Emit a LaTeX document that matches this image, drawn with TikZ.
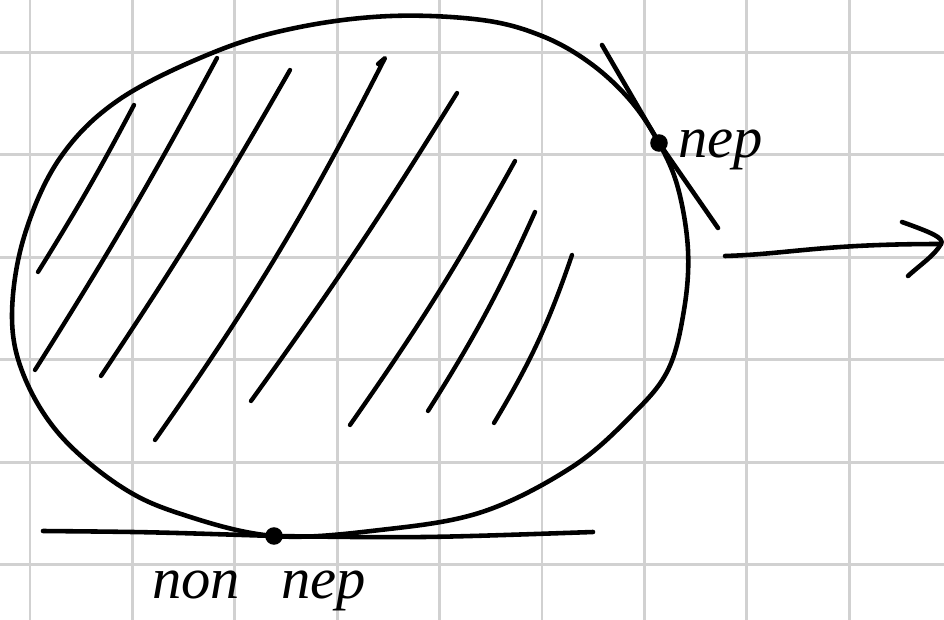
\documentclass[tikz,border=0pt]{standalone}
\usepackage{fontspec}
\setmainfont{Liberation Serif}
\begin{document}
\begin{tikzpicture}[x=0.03cm,y=-0.03cm,
  gridline/.style={draw=black!18,line width=2.4pt},
  pen/.style={draw=black,line width=3.9pt,line cap=round,line join=round},
  hatch/.style={pen,line width=3.7pt},
  dotmark/.style={circle,fill=black,inner sep=0pt,minimum size=15pt},
  hand/.style={font=\itshape\fontsize{50}{52}\selectfont,inner sep=0pt}]
\useasboundingbox (0,0) rectangle (944,620);
% grid
\foreach \k in {0,...,8} \draw[gridline] ({30+102.4*\k},0) -- ({30+102.4*\k},620);
\foreach \k in {0,...,5} \draw[gridline] (0,{52.5+102.4*\k}) -- (944,{52.5+102.4*\k});
% blob
\draw[pen] plot[smooth cycle,tension=0.6] coordinates {
 (391,16) (482,20) (542,36) (590,63) (630,100) (659,143) (678,188) (688,250)
 (684,310) (668,370) (632,415) (572,467) (482,512) (380,530) (274,536)
 (181,514) (120,486) (60,435) (24,376) (12,316) (24,237) (60,158)
 (120,99) (217,51) (300,27)};
% hatching
\coordinate (h1a) at (134,105); \coordinate (h1b) at (38,272);
\coordinate (h2a) at (217,58);  \coordinate (h2b) at (35,370);
\coordinate (h3a) at (290,70);  \coordinate (h3b) at (101,376);
\coordinate (h4a) at (385,58);  \coordinate (h4b) at (155,440);
\coordinate (h5a) at (457,93);  \coordinate (h5b) at (251,401);
\coordinate (h6a) at (515,161); \coordinate (h6b) at (350,425);
\coordinate (h7a) at (535,212); \coordinate (h7b) at (428,411);
\coordinate (h8a) at (572,255); \coordinate (h8b) at (494,423);
\draw[hatch] (h1a) to[bend left=2] (h1b);
\draw[hatch] (h2a) to[bend left=2] (h2b);
\draw[hatch] (h3a) to[bend left=2] (h3b);
\draw[hatch] (378,64) -- (h4a) to[bend left=4] (h4b);
\draw[hatch] (h5a) to[bend left=2] (h5b);
\draw[hatch] (h6a) to[bend left=3] (h6b);
\draw[hatch] (h7a) to[bend left=4] (h7b);
\draw[hatch] (h8a) to[bend left=6] (h8b);
% top point and its line
\node[dotmark] (ptop) at (659,143) {};
\coordinate (ttopA) at (602,45);
\coordinate (ttopB) at (718,228);
\draw[pen] (ttopA) -- (ptop.center) -- (ttopB);
\node[hand,anchor=base west] (ltop) at (678,158) {пер};
% bottom point and its line
\node[dotmark] (pbot) at (274,536) {};
\coordinate (tbotA) at (43,531);
\coordinate (tbotB) at (593,532);
\draw[pen] (tbotA) .. controls (150,532) .. (pbot.center) .. controls (420,538) .. (tbotB);
\node[hand,anchor=base west] (lbot) at (152,598) {non\hspace{0.7em}пер};
% arrow
\coordinate (aS) at (725,256);
\coordinate (aT) at (941,244);
\coordinate (aU) at (902,222);
\coordinate (aL) at (908,276);
\draw[pen] (aS) .. controls (790,254) and (820,244) .. (aT);
\draw[pen] (aU) .. controls (930,232) and (945,238) .. (aT) .. controls (935,255) and (920,265) .. (aL);
\end{tikzpicture}
\end{document}
